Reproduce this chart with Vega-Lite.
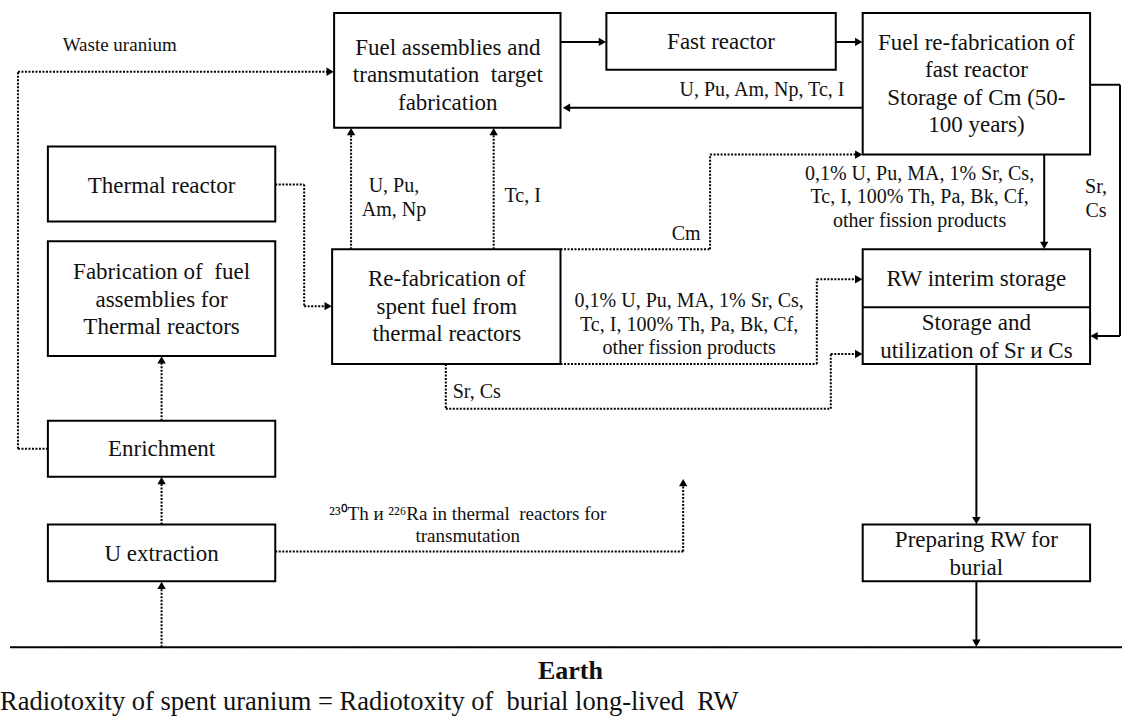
{
"$schema": "https://vega.github.io/schema/vega-lite/v6.json",
"width": 1123, "height": 716, "padding": 0,
"autosize": {"type": "fit", "contains": "padding"},
"background": "white",
"config": {"view": {"stroke": null}},
"datasets": {
"boxes": [
{"name":"Fuel assemblies","x":333,"x2":560,"y":13,"y2":128},
{"name":"Fast reactor","x":606,"x2":836,"y":13,"y2":70},
{"name":"Fuel re-fabrication","x":863,"x2":1091,"y":13,"y2":155},
{"name":"Thermal reactor","x":46,"x2":274,"y":147,"y2":222},
{"name":"Fabrication thermal","x":46,"x2":274,"y":242,"y2":357},
{"name":"Re-fabrication spent","x":331,"x2":560,"y":250,"y2":365},
{"name":"RW storage","x":863,"x2":1091,"y":250,"y2":365},
{"name":"Enrichment","x":46,"x2":274,"y":422,"y2":478},
{"name":"U extraction","x":46,"x2":274,"y":526,"y2":583},
{"name":"Preparing RW","x":863,"x2":1091,"y":526,"y2":583}
],
"lines": [
{"flow":"solid","x":863,"x2":1091,"y":308,"y2":308},
{"flow":"solid","x":560,"x2":602,"y":42,"y2":42},
{"flow":"solid","x":836,"x2":859,"y":42,"y2":42},
{"flow":"solid","x":863,"x2":566,"y":108,"y2":108},
{"flow":"solid","x":1091,"x2":1121,"y":85,"y2":85},
{"flow":"solid","x":1121,"x2":1121,"y":85,"y2":337},
{"flow":"solid","x":1121,"x2":1095,"y":337,"y2":337},
{"flow":"solid","x":1045,"x2":1045,"y":155,"y2":246},
{"flow":"solid","x":977,"x2":977,"y":365,"y2":522},
{"flow":"solid","x":977,"x2":977,"y":583,"y2":645},
{"flow":"solid","x":8,"x2":1123,"y":649,"y2":649},
{"flow":"dotted","x":16,"x2":46,"y":450,"y2":450},
{"flow":"dotted","x":16,"x2":16,"y":450,"y2":72},
{"flow":"dotted","x":16,"x2":329,"y":72,"y2":72},
{"flow":"dotted","x":274,"x2":303,"y":185,"y2":185},
{"flow":"dotted","x":303,"x2":303,"y":185,"y2":307},
{"flow":"dotted","x":303,"x2":327,"y":307,"y2":307},
{"flow":"dotted","x":350,"x2":350,"y":250,"y2":132},
{"flow":"dotted","x":493,"x2":493,"y":250,"y2":132},
{"flow":"dotted","x":560,"x2":710,"y":250,"y2":250},
{"flow":"dotted","x":710,"x2":710,"y":250,"y2":155},
{"flow":"dotted","x":710,"x2":859,"y":155,"y2":155},
{"flow":"dotted","x":560,"x2":817,"y":365,"y2":365},
{"flow":"dotted","x":817,"x2":817,"y":365,"y2":280},
{"flow":"dotted","x":817,"x2":859,"y":280,"y2":280},
{"flow":"dotted","x":445,"x2":445,"y":365,"y2":410},
{"flow":"dotted","x":445,"x2":831,"y":410,"y2":410},
{"flow":"dotted","x":831,"x2":831,"y":410,"y2":355},
{"flow":"dotted","x":831,"x2":859,"y":355,"y2":355},
{"flow":"dotted","x":160,"x2":160,"y":422,"y2":361},
{"flow":"dotted","x":160,"x2":160,"y":526,"y2":482},
{"flow":"dotted","x":160,"x2":160,"y":649,"y2":587},
{"flow":"dotted","x":274,"x2":683,"y":553,"y2":553},
{"flow":"dotted","x":683,"x2":683,"y":553,"y2":484}
],
"arrows": [
{"dir":"right","x":602,"y":42},
{"dir":"right","x":859,"y":42},
{"dir":"left","x":566,"y":108},
{"dir":"left","x":1095,"y":337},
{"dir":"down","x":1045,"y":246},
{"dir":"down","x":977,"y":522},
{"dir":"down","x":977,"y":645},
{"dir":"right","x":329,"y":72},
{"dir":"right","x":327,"y":307},
{"dir":"up","x":350,"y":132},
{"dir":"up","x":493,"y":132},
{"dir":"right","x":859,"y":155},
{"dir":"right","x":859,"y":280},
{"dir":"right","x":859,"y":355},
{"dir":"up","x":160,"y":361},
{"dir":"up","x":160,"y":482},
{"dir":"up","x":160,"y":587},
{"dir":"up","x":683,"y":484}
],
"texts": [
{"role":"box","x":447,"y":48,"text":"Fuel assemblies and\ntransmutation\u00a0 target\nfabrication"},
{"role":"box","x":721,"y":42,"text":"Fast reactor"},
{"role":"box","x":977,"y":43,"text":"Fuel re-fabrication of\nfast reactor\nStorage of Cm (50-\n100 years)"},
{"role":"box","x":160,"y":187,"text":"Thermal reactor"},
{"role":"box","x":160,"y":273,"text":"Fabrication of\u00a0 fuel\nassemblies for\nThermal reactors"},
{"role":"box","x":446,"y":280,"text":"Re-fabrication of\nspent fuel from\nthermal reactors"},
{"role":"box","x":977,"y":280,"text":"RW interim storage"},
{"role":"box","x":977,"y":324,"text":"Storage and\nutilization of Sr и Cs"},
{"role":"box","x":160,"y":450,"text":"Enrichment"},
{"role":"box","x":160,"y":556,"text":"U extraction"},
{"role":"box","x":977,"y":542,"text":"Preparing RW for\nburial"},
{"role":"label","x":393,"y":187,"text":"U, Pu,\nAm, Np"},
{"role":"label","x":522,"y":197,"text":"Tc, I"},
{"role":"label","x":762,"y":90,"text":"U, Pu, Am, Np, Tc, I"},
{"role":"label","x":920,"y":174,"text":"0,1% U, Pu, MA, 1% Sr, Cs,\nTc, I, 100% Th, Pa, Bk, Cf,\nother fission products"},
{"role":"label","x":686,"y":235,"text":"Cm"},
{"role":"label","x":1097,"y":188,"text":"Sr,\nCs"},
{"role":"label","x":689,"y":302,"text":"0,1% U, Pu, MA, 1% Sr, Cs,\nTc, I, 100% Th, Pa, Bk, Cf,\nother fission products"},
{"role":"label","x":476,"y":393,"text":"Sr, Cs"},
{"role":"small","x":118,"y":45,"text":"Waste uranium"},
{"role":"small","x":467,"y":515,"text":"²³⁰Th и ²²⁶Ra in thermal\u00a0 reactors for\ntransmutation"},
{"role":"title","x":570,"y":673,"text":"Earth"},
{"role":"note","x":-2,"y":704,"text":"Radiotoxity of spent uranium = Radiotoxity of\u00a0 burial long-lived\u00a0 RW"}
]
},
"layer": [
{"data":{"name":"boxes"},
 "mark":{"type":"rect","fill":"white","stroke":"black","strokeWidth":2},
 "encoding":{
  "x":{"field":"x","type":"quantitative","scale":{"domain":[0,1123],"nice":false,"zero":false},"axis":null},
  "x2":{"field":"x2"},
  "y":{"field":"y","type":"quantitative","scale":{"domain":[0,716],"reverse":true,"nice":false,"zero":false},"axis":null},
  "y2":{"field":"y2"}}},
{"data":{"name":"lines"},
 "mark":{"type":"rule","color":"black","strokeWidth":2},
 "encoding":{
  "x":{"field":"x","type":"quantitative","scale":{"domain":[0,1123],"nice":false,"zero":false},"axis":null},
  "x2":{"field":"x2"},
  "y":{"field":"y","type":"quantitative","scale":{"domain":[0,716],"reverse":true,"nice":false,"zero":false},"axis":null},
  "y2":{"field":"y2"},
  "strokeDash":{"field":"flow","type":"nominal","scale":{"domain":["solid","dotted"],"range":[[1,0],[2,1.5]]},"legend":null}}},
{"data":{"name":"arrows"},
 "mark":{"type":"point","filled":true,"color":"black","opacity":1,"size":70},
 "encoding":{
  "x":{"field":"x","type":"quantitative","scale":{"domain":[0,1123],"nice":false,"zero":false},"axis":null},
  "y":{"field":"y","type":"quantitative","scale":{"domain":[0,716],"reverse":true,"nice":false,"zero":false},"axis":null},
  "shape":{"field":"dir","type":"nominal","scale":{"domain":["right","left","up","down"],"range":["triangle-right","triangle-left","triangle-up","triangle-down"]},"legend":null}}},
{"data":{"name":"texts"},
 "transform":[{"filter":"datum.role === 'box'"}],
 "mark":{"type":"text","font":"Liberation Serif","fontSize":23,"lineHeight":27.5,"lineBreak":"\n","align":"center","baseline":"middle","color":"#111"},
 "encoding":{
  "x":{"field":"x","type":"quantitative","scale":{"domain":[0,1123],"nice":false,"zero":false},"axis":null},
  "y":{"field":"y","type":"quantitative","scale":{"domain":[0,716],"reverse":true,"nice":false,"zero":false},"axis":null},
  "text":{"field":"text"}}},
{"data":{"name":"texts"},
 "transform":[{"filter":"datum.role === 'label'"}],
 "mark":{"type":"text","font":"Liberation Serif","fontSize":20,"lineHeight":23.5,"lineBreak":"\n","align":"center","baseline":"middle","color":"#111"},
 "encoding":{
  "x":{"field":"x","type":"quantitative","scale":{"domain":[0,1123],"nice":false,"zero":false},"axis":null},
  "y":{"field":"y","type":"quantitative","scale":{"domain":[0,716],"reverse":true,"nice":false,"zero":false},"axis":null},
  "text":{"field":"text"}}},
{"data":{"name":"texts"},
 "transform":[{"filter":"datum.role === 'small'"}],
 "mark":{"type":"text","font":"Liberation Serif","fontSize":19,"lineHeight":22,"lineBreak":"\n","align":"center","baseline":"middle","color":"#111"},
 "encoding":{
  "x":{"field":"x","type":"quantitative","scale":{"domain":[0,1123],"nice":false,"zero":false},"axis":null},
  "y":{"field":"y","type":"quantitative","scale":{"domain":[0,716],"reverse":true,"nice":false,"zero":false},"axis":null},
  "text":{"field":"text"}}},
{"data":{"name":"texts"},
 "transform":[{"filter":"datum.role === 'title'"}],
 "mark":{"type":"text","font":"Liberation Serif","fontSize":26,"fontWeight":"bold","align":"center","baseline":"middle","color":"#111"},
 "encoding":{
  "x":{"field":"x","type":"quantitative","scale":{"domain":[0,1123],"nice":false,"zero":false},"axis":null},
  "y":{"field":"y","type":"quantitative","scale":{"domain":[0,716],"reverse":true,"nice":false,"zero":false},"axis":null},
  "text":{"field":"text"}}},
{"data":{"name":"texts"},
 "transform":[{"filter":"datum.role === 'note'"}],
 "mark":{"type":"text","font":"Liberation Serif","fontSize":26.5,"align":"left","baseline":"middle","color":"#111"},
 "encoding":{
  "x":{"field":"x","type":"quantitative","scale":{"domain":[0,1123],"nice":false,"zero":false},"axis":null},
  "y":{"field":"y","type":"quantitative","scale":{"domain":[0,716],"reverse":true,"nice":false,"zero":false},"axis":null},
  "text":{"field":"text"}}}
]
}
